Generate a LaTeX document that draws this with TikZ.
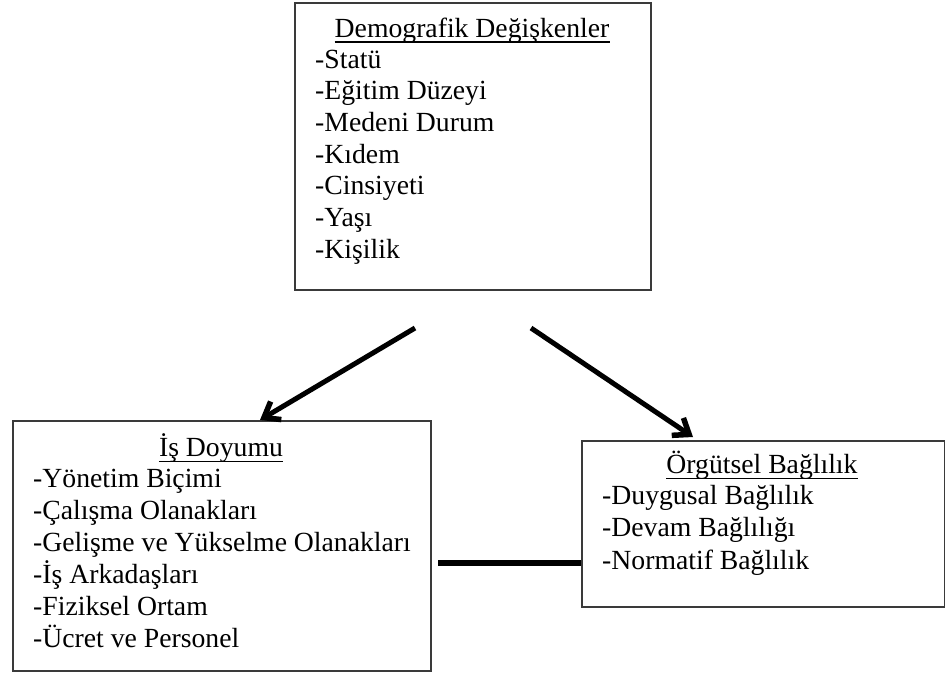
\documentclass[tikz,border=0pt]{standalone}
\usepackage{fontspec}
\setmainfont{Liberation Serif}
\usetikzlibrary{arrows.meta,calc}
\definecolor{boxgray}{HTML}{3A3A3A}
\begin{document}
\begin{tikzpicture}[x=1pt,y=-1pt,
  panel/.style={draw=boxgray, line width=1.5pt, rectangle, inner sep=0pt, anchor=north west},
  heading/.style={inner sep=0pt, anchor=base, font=\fontsize{27.7}{31.7}\selectfont},
  entry/.style={inner sep=0pt, anchor=base west, font=\fontsize{27.7}{31.7}\selectfont},
  uline/.style={line width=1.3pt},
  flow/.style={line width=5pt, -{Straight Barb[length=14pt,width=21pt,line width=5.5pt]}},
  link/.style={line width=6pt}]
\useasboundingbox (0,0) rectangle (945,673);

% boxes
\node[panel, minimum width=356pt, minimum height=287pt] (demo) at (294,2) {};
\node[panel, minimum width=418pt, minimum height=250pt] (doyum) at (12,420) {};
\node[panel, minimum width=363pt, minimum height=166pt] (bag) at (581,440) {};

% Demografik Degiskenler
\node[heading] (demoT) at (472,37) {Demografik Değişkenler};
\draw[uline] ($(demoT.base west)+(0,5)$) -- ($(demoT.base east)+(0,5)$);
\foreach \t [count=\i from 0] in {-Statü,-Eğitim Düzeyi,-Medeni Durum,-Kıdem,-Cinsiyeti,-Yaşı,-Kişilik}
  \node[entry] (demo-\i) at (315,68+31.7*\i) {\t};

% Is Doyumu
\node[heading] (doyumT) at (221,456) {İş Doyumu};
\draw[uline] ($(doyumT.base west)+(0,5.5)$) -- ($(doyumT.base east)+(0,5.5)$);
\foreach \t [count=\i from 0] in {-Yönetim Biçimi,-Çalışma Olanakları,-Gelişme ve Yükselme Olanakları,-İş Arkadaşları,-Fiziksel Ortam,-Ücret ve Personel}
  \node[entry] (doyum-\i) at (33,487+32*\i) {\t};

% Orgutsel Baglilik
\node[heading] (bagT) at (762,473) {Örgütsel Bağlılık};
\draw[uline] ($(bagT.base west)+(0,5.5)$) -- ($(bagT.base east)+(0,5.5)$);
\foreach \t [count=\i from 0] in {-Duygusal Bağlılık,-Devam Bağlılığı,-Normatif Bağlılık}
  \node[entry] (bag-\i) at (602,504+32.5*\i) {\t};

% connectors
\coordinate (fromL) at (415,328);
\coordinate (toL) at ($(doyum.north west)+(248,0)$);
\coordinate (fromR) at (531,328);
\coordinate (toR) at ($(bag.north west)+(112,-3)$);
\draw[flow] (fromL) -- (toL);
\draw[flow] (fromR) -- (toR);

\coordinate (linkS) at (438,563);
\draw[link] (linkS) -- (linkS -| bag.west);
\end{tikzpicture}
\end{document}
